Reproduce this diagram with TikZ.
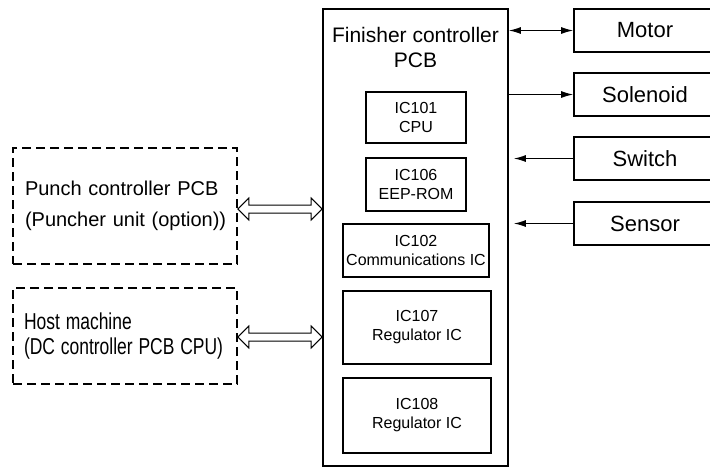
\documentclass[tikz,border=0pt]{standalone}
\usepackage{fontspec}
\setmainfont{Liberation Sans}
\usetikzlibrary{arrows.meta,calc}
\newcommand\hollowarrow[2]{%
  \draw[hollow] (#1) -- ($(#1)+(11,-11)$) -- ($(#1)+(11,-4)$) -- ($(#2)+(-11,-4)$)
    -- ($(#2)+(-11,-11)$) -- (#2) -- ($(#2)+(-11,11)$) -- ($(#2)+(-11,4)$)
    -- ($(#1)+(11,4)$) -- ($(#1)+(11,11)$) -- cycle;}
\begin{document}
\begin{tikzpicture}[x=1pt,y=-1pt,
  box/.style={draw,line width=1.7pt,inner sep=0pt},
  ic/.style={draw,line width=1.2pt,inner sep=0pt,align=center,
    font=\fontsize{16}{19}\selectfont},
  dev/.style={draw,line width=1.6pt,inner sep=0pt,minimum width=142pt,
    minimum height=43pt,font=\fontsize{22}{26}\selectfont},
  ext/.style={draw,dash pattern=on 9pt off 5pt,line width=1.8pt,
    minimum width=224pt,inner ysep=0pt,align=left},
  tip/.style={Latex[length=12pt,width=7pt]},
  sig/.style={line width=1.2pt,-{Latex[length=12pt,width=7pt]}},
  hollow/.style={line width=1pt,line join=miter}]
\useasboundingbox (0,0) rectangle (710,467);
% main board
\node[box,minimum width=185pt,minimum height=457pt] (main) at (415.5,237.5) {};
\node[align=center,inner sep=0pt,font=\fontsize{21}{25}\selectfont] (title) at (415.5,47)
  {Finisher controller\\PCB};
\node[ic,minimum width=100pt,minimum height=51pt] (ic101) at (416,117.5) {IC101\\CPU};
\node[ic,minimum width=100pt,minimum height=53pt] (ic106) at (416,184.5) {IC106\\EEP-ROM};
\node[ic,minimum width=146pt,minimum height=53pt] (ic102) at (416,250.5) {IC102\\Communications IC};
\node[ic,minimum width=148pt,minimum height=73pt] (ic107) at (417,327.5) {IC107\\Regulator IC};
\node[ic,minimum width=148pt,minimum height=75pt] (ic108) at (417,415.5) {IC108\\Regulator IC};
% devices
\node[dev] (motor) at (645,30.5) {Motor};
\node[dev] (sol) at (645,94.5) {Solenoid};
\node[dev] (sw) at (645,158.5) {Switch};
\node[dev] (sen) at (645,223.5) {Sensor};
\draw[line width=1.2pt,{Latex[length=12pt,width=7pt]}-{Latex[length=12pt,width=7pt]}]
  (main.east |- motor) -- (motor.west);
\draw[sig] (main.east |- sol) -- (sol.west);
\draw[sig,shorten >=5pt] (sw.west) -- (main.east |- sw);
\draw[sig,shorten >=5pt] (sen.west) -- (main.east |- sen);
% external units
\node[ext,minimum height=116pt,text width=200pt,inner xsep=12pt,
  font=\fontsize{20}{31}\selectfont] (punch) at (125,206)
  {\mbox{Punch controller PCB}\\\mbox{(Puncher unit (option))}};
\node[ext,minimum height=96pt,text width=202pt,inner xsep=11pt,
  font=\fontsize{23}{25}\selectfont] (host) at (125,336)
  {\scalebox{0.76}[1]{Host machine}\\\scalebox{0.76}[1]{(DC controller PCB CPU)}};
\coordinate (pa) at (punch.east |- 0,209);
\coordinate (pb) at (main.west |- 0,209);
\coordinate (ha) at (host.east |- 0,337);
\coordinate (hb) at (main.west |- 0,337);
\hollowarrow{pa}{pb}
\hollowarrow{ha}{hb}
\end{tikzpicture}
\end{document}
